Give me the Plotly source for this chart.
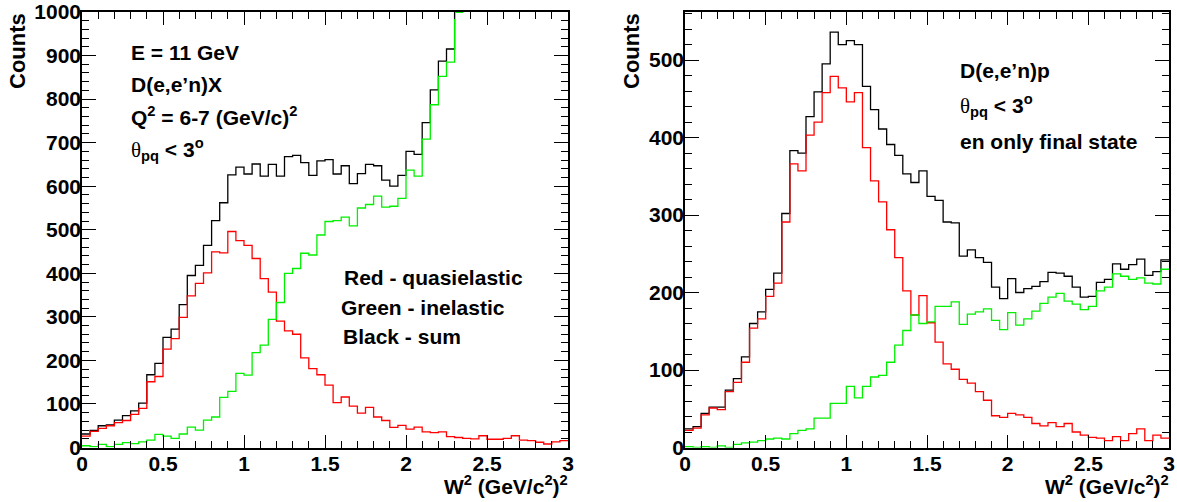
import numpy as np
import plotly.graph_objects as go

# ---------------- data (counts per bin, 60 bins of W^2 from 0 to 3) ----------------
NBINS = 60
W2_MIN, W2_MAX = 0.0, 3.0

# Left panel: D(e,e'n)X, Q^2 = 6-7 (GeV/c)^2   (None = above the frame, off scale)
left_red = [26, 37, 44, 50, 57, 62, 76, 90, 151, 163,
            226, 250, 299, 348, 377, 401, 449, 447, 496, 475,
            464, 434, 388, 357, 290, 268, 260, 206, 181, 167,
            143, 103, 116, 95, 79, 92, 70, 62, 46, 51,
            42, 47, 36, 34, 36, 25, 23, 21, 20, 27,
            19, 19, 21, 27, 17, 16, 12, 8, 13, 16]
left_green = [4, 2, 7, 2, 7, 11, 9, 13, 17, 30,
              26, 21, 31, 47, 40, 63, 70, 115, 129, 170,
              166, 218, 235, 294, 333, 400, 411, 446, 442, 488,
              519, 521, 529, 509, 550, 558, 577, 552, 554, 572,
              637, 623, 708, 787, 852, 885, 999] + [None] * 13
left_black = [31, 39, 50, 52, 63, 73, 84, 102, 167, 193,
              253, 272, 328, 395, 418, 464, 521, 562, 626, 644,
              628, 651, 623, 650, 623, 668, 671, 654, 625, 658,
              661, 628, 647, 606, 629, 650, 647, 614, 600, 625,
              680, 673, 746, 821, 887, 915] + [None] * 14

# Right panel: D(e,e'n)p, en only final state
right_red = [22, 25, 42, 51, 49, 72, 84, 110, 154, 166,
             195, 212, 291, 366, 357, 403, 420, 458, 479, 464,
             446, 458, 387, 344, 317, 281, 245, 202, 171, 196,
             161, 136, 108, 101, 88, 83, 72, 61, 41, 39,
             44, 42, 39, 31, 28, 32, 27, 31, 20, 16,
             13, 12, 9, 14, 9, 18, 24, 9, 16, 12]
right_green = [1, 0, 1, 0, 2, 0, 4, 6, 7, 9,
               11, 12, 11, 18, 22, 24, 38, 38, 57, 57,
               79, 64, 79, 91, 93, 110, 132, 151, 171, 160,
               162, 182, 182, 188, 159, 172, 175, 179, 164, 152,
               174, 158, 166, 176, 186, 194, 199, 189, 185, 178,
               182, 202, 207, 224, 221, 217, 219, 212, 211, 230]
right_black = [24, 27, 44, 52, 52, 74, 89, 117, 160, 175,
               204, 225, 302, 383, 380, 427, 459, 495, 536, 520,
               525, 520, 466, 436, 411, 391, 377, 353, 342, 357,
               324, 319, 291, 290, 247, 255, 245, 239, 207, 192,
               218, 200, 205, 208, 214, 226, 225, 221, 207, 194,
               195, 213, 217, 237, 230, 236, 243, 222, 227, 242]

LEFT_YMAX = 1000
RIGHT_YMAX = 562

# ---------------- figure ----------------
W, H = 1177, 502
FONT = "Liberation Sans, Arial, Helvetica, sans-serif"
edges = np.linspace(W2_MIN, W2_MAX, NBINS + 1)


def step_trace(vals, color, xa, ya, ymax):
    # off-scale bins are drawn clipped above the frame (ROOT-like behaviour)
    y = [v if v is not None else ymax * 1.5 for v in vals]
    y = y + [y[-1]]
    return go.Scatter(x=edges, y=y, mode="lines", line_shape="hv",
                      line=dict(color=color, width=1.3),
                      xaxis=xa, yaxis=ya, hoverinfo="skip", showlegend=False)


fig = go.Figure()
for vals, col in [(left_black, "#000000"), (left_red, "#ff0000"), (left_green, "#00f000")]:
    fig.add_trace(step_trace(vals, col, "x", "y", LEFT_YMAX))
for vals, col in [(right_black, "#000000"), (right_red, "#ff0000"), (right_green, "#00f000")]:
    fig.add_trace(step_trace(vals, col, "x2", "y2", RIGHT_YMAX))


def px_x(p):
    return p / W


def px_y(p):
    return 1 - p / H


tickfont = dict(family=FONT, size=21, color="black", weight="bold")


def xaxis_cfg(domain, anchor):
    return dict(domain=domain, anchor=anchor, range=[W2_MIN, W2_MAX], automargin=False,
                showgrid=False, zeroline=False, showline=True, linecolor="black",
                linewidth=1.5, mirror="ticks", ticks="inside", ticklen=13,
                tickwidth=1.3, tickcolor="black", tick0=0, dtick=0.5,
                tickfont=tickfont, ticklabeloverflow="allow", ticklabelstandoff=-3,
                minor=dict(ticks="inside", ticklen=7, dtick=0.1, tickwidth=1.3,
                           tickcolor="black", showgrid=False))


def yaxis_cfg(domain, anchor, ymax):
    return dict(domain=domain, anchor=anchor, range=[0, ymax], automargin=False,
                showgrid=False, zeroline=False, showline=True, linecolor="black",
                linewidth=1.5, mirror="ticks", ticks="inside", ticklen=14,
                tickwidth=1.3, tickcolor="black", tick0=0, dtick=100,
                tickfont=tickfont, ticklabeloverflow="allow", ticklabelstandoff=-5,
                minor=dict(ticks="inside", ticklen=7, dtick=20, tickwidth=1.3,
                           tickcolor="black", showgrid=False))


ydom = [px_y(447.5), px_y(12)]
fig.update_layout(
    width=W, height=H, margin=dict(l=0, r=0, t=0, b=0, autoexpand=False),
    paper_bgcolor="white", plot_bgcolor="white",
    xaxis=xaxis_cfg([px_x(82), px_x(568)], "y"),
    yaxis=yaxis_cfg(ydom, "x", LEFT_YMAX),
    xaxis2=xaxis_cfg([px_x(685), px_x(1169)], "y2"),
    yaxis2=yaxis_cfg(ydom, "x2", RIGHT_YMAX),
)

TXT = dict(family=FONT, size=21, color="black", weight="bold")
THETA = "<span style='font-family:Liberation Serif;font-weight:normal'>θ</span><sub>pq</sub> &lt; 3<sup>o</sup>"
W2TITLE = "W<sup>2</sup> (GeV/c<sup>2</sup>)<sup>2</sup>"

labels = [
    # (text, x_px, y_px, xanchor)
    ("E = 11 GeV", 129, 52, "left"),
    ("D(e,e’n)X", 129, 85, "left"),
    ("Q<sup>2</sup> = 6-7 (GeV/c)<sup>2</sup>", 129, 116, "left"),
    (THETA, 129, 150, "left"),
    ("Red - quasielastic", 342, 277, "left"),
    ("Green - inelastic", 339, 307, "left"),
    ("Black - sum", 341, 336, "left"),
    ("D(e,e’n)p", 958, 71, "left"),
    (THETA, 958, 105, "left"),
    ("en only final state", 958, 141, "left"),
    (W2TITLE, 570, 485, "right"),
    (W2TITLE, 1171, 485, "right"),
]
for text, x, y, xa in labels:
    fig.add_annotation(text=text, x=px_x(x), y=px_y(y), xref="paper", yref="paper",
                       xanchor=xa, yanchor="middle", showarrow=False, font=TXT)

for x in (18, 632):
    fig.add_annotation(text="Counts", x=px_x(x), y=px_y(11), xref="paper", yref="paper",
                       xanchor="center", yanchor="top", textangle=-90, showarrow=False,
                       font=dict(family=FONT, size=22, color="black", weight="bold"))

# remove the default 8 px page margin so the figure fills the window exactly
fig.write_html("out.html", config={"displayModeBar": False},
               post_script="document.body.style.margin='0';")
